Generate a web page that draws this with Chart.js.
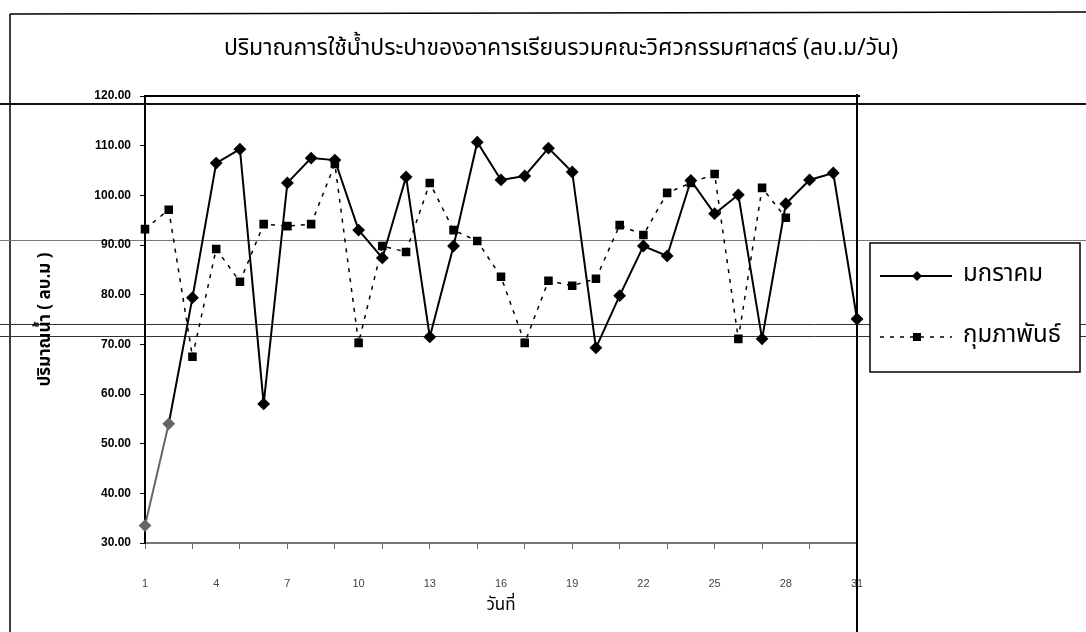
<!DOCTYPE html>
<html lang="th">
<head>
<meta charset="utf-8">
<script src="https://cdn.jsdelivr.net/npm/chart.js@4"></script>
<style>
  html, body { margin: 0; padding: 0; background: #fff; }
  #wrap { width: 1086px; height: 632px; position: relative; }
</style>
</head>
<body>
<div id="wrap"><canvas id="c" width="1086" height="632"></canvas></div>
<script>
// Daily tap-water use (cubic metres per day), January and February
const days = Array.from({ length: 31 }, (_, i) => String(i + 1));
const january = [33.5, 54.0, 79.4, 106.5, 109.3, 58.0, 102.5, 107.5, 107.1, 93.0,
                 87.4, 103.7, 71.5, 89.8, 110.7, 103.1, 103.9, 109.5, 104.7, 69.3,
                 79.8, 89.8, 87.8, 103.0, 96.3, 100.1, 71.1, 98.3, 103.1, 104.5, 75.1];
const february = [93.2, 97.1, 67.5, 89.2, 82.6, 94.2, 93.8, 94.2, 106.3, 70.3,
                  89.8, 88.6, 102.5, 93.0, 90.8, 83.6, 70.3, 82.8, 81.8, 83.2,
                  94.0, 92.0, 100.5, 102.5, 104.3, 71.1, 101.5, 95.5, null, null, null];
const seriesNames = ['มกราคม', 'กุมภาพันธ์'];
const yTicks = [30, 40, 50, 60, 70, 80, 90, 100, 110, 120];

const thaiFont = '"Noto Sans Thai", "Noto Sans", "Liberation Sans", sans-serif';
const numFont = '"Liberation Sans", Arial, sans-serif';

// Page frame, plot frame and the boxed legend
const framePlugin = {
  id: 'frame',
  beforeDraw(chart) {
    const { ctx, width } = chart;
    ctx.save();
    ctx.strokeStyle = '#000';
    ctx.lineWidth = 1.5;
    ctx.beginPath();
    ctx.moveTo(10, 14); ctx.lineTo(10, chart.height);
    ctx.moveTo(10, 14); ctx.lineTo(width, 12);
    ctx.stroke();
    // ruled lines running across the sheet
    ctx.strokeStyle = '#111'; ctx.lineWidth = 2;
    ctx.beginPath(); ctx.moveTo(0, 104); ctx.lineTo(width, 104); ctx.stroke();
    ctx.strokeStyle = '#777'; ctx.lineWidth = 1;
    ctx.beginPath(); ctx.moveTo(0, 240.5); ctx.lineTo(width, 240.5); ctx.stroke();
    ctx.strokeStyle = '#333';
    ctx.beginPath(); ctx.moveTo(0, 324.5); ctx.lineTo(width, 324.5); ctx.stroke();
    ctx.beginPath(); ctx.moveTo(0, 336.5); ctx.lineTo(width, 336.5); ctx.stroke();
    ctx.restore();
  },
  afterDraw(chart) {
    const { ctx, chartArea: a } = chart;
    ctx.save();
    ctx.strokeStyle = '#000';
    ctx.lineWidth = 2;
    ctx.beginPath();
    ctx.moveTo(a.left, a.top); ctx.lineTo(a.right + 3, a.top);
    ctx.moveTo(a.right, a.top - 2); ctx.lineTo(a.right, chart.height);
    ctx.stroke();

    // legend box
    const bx = a.right + 13, by = 243, bw = 210, bh = 129;
    ctx.lineWidth = 1.5;
    ctx.fillStyle = '#fff';
    ctx.fillRect(bx, by, bw, bh);
    ctx.strokeRect(bx, by, bw, bh);
    const rows = [by + 33, by + 94];
    chart.data.datasets.forEach((ds, i) => {
      const y = rows[i];
      ctx.strokeStyle = '#000';
      ctx.lineWidth = i === 0 ? 2 : 1.5;
      ctx.setLineDash(ds.borderDash || []);
      ctx.beginPath(); ctx.moveTo(bx + 10, y); ctx.lineTo(bx + 82, y); ctx.stroke();
      ctx.setLineDash([]);
      ctx.fillStyle = '#000';
      const cx = bx + 47;
      if (ds.pointStyle === 'rectRot') {
        ctx.beginPath();
        ctx.moveTo(cx, y - 5); ctx.lineTo(cx + 5, y); ctx.lineTo(cx, y + 5); ctx.lineTo(cx - 5, y);
        ctx.closePath(); ctx.fill();
      } else {
        ctx.fillRect(cx - 4, y - 4, 8, 8);
      }
      ctx.font = '24px ' + thaiFont;
      ctx.textBaseline = 'middle';
      ctx.textAlign = 'left';
      ctx.fillText(ds.label, bx + 93, y);
    });
    ctx.restore();
  }
};

new Chart(document.getElementById('c'), {
  type: 'line',
  data: {
    labels: days,
    datasets: [
      {
        label: seriesNames[0],
        data: january,
        borderColor: '#000',
        borderWidth: 2,
        pointStyle: 'rectRot',
        pointRadius: 5,
        pointBackgroundColor: january.map((_, i) => i < 2 ? '#666' : '#000'),
        pointBorderColor: january.map((_, i) => i < 2 ? '#666' : '#000'),
        tension: 0,
        segment: { borderColor: c => c.p0DataIndex === 0 ? '#666' : undefined }
      },
      {
        label: seriesNames[1],
        data: february,
        borderColor: '#000',
        borderWidth: 1.5,
        borderDash: [4, 6],
        pointStyle: 'rect',
        pointRadius: 5,
        pointBackgroundColor: '#000',
        pointBorderColor: '#000',
        tension: 0,
        spanGaps: false
      }
    ]
  },
  options: {
    responsive: false,
    animation: false,
    layout: { padding: { left: 36, right: 0, top: 0, bottom: 15 } },
    plugins: {
      legend: { display: false },
      tooltip: { enabled: false },
      title: {
        display: true,
        text: 'ปริมาณการใช้น้ำประปาของอาคารเรียนรวมคณะวิศวกรรมศาสตร์ (ลบ.ม/วัน)',
        color: '#000',
        font: { family: thaiFont, size: 23, weight: 'normal', lineHeight: 1.2 },
        padding: { top: 37, bottom: 31.4 },
        align: 'center'
      }
    },
    scales: {
      x: {
        type: 'category',
        offset: false,
        border: { color: '#777', width: 2 },
        grid: {
          drawOnChartArea: false,
          tickLength: 6,
          color: c => (c.index % 2 === 0 ? '#666' : 'rgba(0,0,0,0)')
        },
        ticks: {
          autoSkip: false,
          maxRotation: 0,
          padding: 28,
          color: '#444',
          font: { family: numFont, size: 11 },
          callback: (v, i) => (i % 3 === 0 ? days[i] : '')
        },
        title: {
          display: true,
          text: 'วันที่',
          color: '#000',
          font: { family: thaiFont, size: 17 },
          padding: { top: 0, bottom: 0 }
        },
        afterFit: s => { s.height = 74; }
      },
      y: {
        min: 30,
        max: 120,
        afterBuildTicks: s => { s.ticks = yTicks.map(v => ({ value: v })); },
        border: { color: '#000', width: 2 },
        grid: { drawOnChartArea: false, tickLength: 5, color: '#000' },
        ticks: {
          color: '#000',
          padding: 9,
          font: { family: numFont, size: 12, weight: 'bold' },
          callback: v => Number(v).toFixed(2)
        },
        title: {
          display: true,
          text: 'ปริมาณน้ำ ( ลบ.ม )',
          color: '#000',
          font: { family: thaiFont, size: 17, weight: 'bold' },
          padding: { top: 0, bottom: 0 }
        },
        afterFit: s => { s.width = 109; }
      },
      // empty right-hand gutter that holds the legend
      side: {
        type: 'linear',
        position: 'right',
        display: true,
        grid: { display: false, drawTicks: false },
        border: { display: false },
        ticks: { display: false },
        afterFit: s => { s.width = 229; }
      }
    }
  },
  plugins: [framePlugin]
});
</script>
</body>
</html>
